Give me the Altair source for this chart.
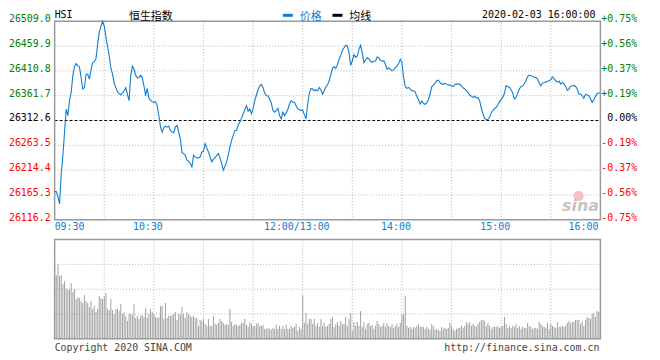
import altair as alt
import pandas as pd

# ---------------- data ----------------
PREV_CLOSE = 26312.6
Y_LO, Y_HI = 26116.2, 26509.0
price_ticks = [26116.2, 26165.3, 26214.4, 26263.5, 26312.6, 26361.7, 26410.8, 26459.9, 26509.0]
pct_labels = ["-0.75%", "-0.56%", "-0.37%", "-0.19%", "0.00%", "+0.19%", "+0.37%", "+0.56%", "+0.75%"]
time_ticks = [0, 60, 150, 210, 270, 330]          # trading minutes since 09:30 (lunch removed)
time_labels = ["09:30", "10:30", "12:00/13:00", "14:00", "15:00", "16:00"]
grid_minutes = [30, 60, 90, 120, 150, 180, 210, 240, 270, 300]
vol_grid = [25, 50, 75]

price = [
    26171.8, 26171.8, 26162.0, 26147.6, 26207.8, 26243.8, 26289.7, 26335.5, 26322.4, 26351.9,
    26368.2, 26401.0, 26419.3, 26425.2, 26420.6, 26419.3, 26397.7, 26374.8, 26378.0, 26404.2,
    26404.2, 26394.4, 26412.7, 26427.1, 26429.1, 26435.0, 26463.2, 26487.4, 26499.2, 26509.0,
    26499.2, 26478.2, 26459.9, 26440.2, 26416.0, 26404.2, 26386.6, 26378.0, 26369.5, 26365.6,
    26363.6, 26366.9, 26371.5, 26377.4, 26365.0, 26351.9, 26400.9, 26420.6, 26414.0, 26402.3,
    26397.0, 26397.7, 26402.3, 26397.7, 26381.3, 26361.7, 26376.1, 26357.1, 26352.5, 26349.9,
    26348.6, 26349.9, 26342.0, 26322.4, 26299.5, 26289.7, 26298.2, 26301.4, 26299.5, 26301.4,
    26292.9, 26289.7, 26288.3, 26299.5, 26302.8, 26289.7, 26276.6, 26249.1, 26247.1, 26243.8,
    26234.0, 26232.0, 26227.5, 26220.9, 26243.8, 26240.6, 26238.6, 26238.6, 26240.6, 26250.4,
    26251.7, 26266.7, 26258.2, 26250.4, 26240.6, 26230.7, 26236.0, 26238.6, 26243.8, 26247.1,
    26238.6, 26227.5, 26214.4, 26222.2, 26230.7, 26243.8, 26260.2, 26273.3, 26283.1, 26292.9,
    26292.9, 26304.1, 26309.3, 26317.2, 26325.7, 26334.2, 26342.0, 26330.9, 26335.5, 26325.7,
    26335.5, 26351.9, 26363.0, 26373.5, 26381.3, 26384.0, 26378.0, 26366.9, 26361.7, 26361.7,
    26355.1, 26347.3, 26332.2, 26328.9, 26332.2, 26336.8, 26322.4, 26315.8, 26328.9, 26322.4,
    26327.6, 26334.2, 26345.3, 26351.9, 26348.6, 26348.6, 26342.0, 26335.5, 26334.2, 26332.2,
    26333.5, 26323.7, 26315.8, 26345.3, 26366.9, 26376.1, 26374.8, 26371.5, 26373.5, 26371.5,
    26378.0, 26373.5, 26364.9, 26371.5, 26379.3, 26383.3, 26391.2, 26402.9, 26416.0, 26419.3,
    26415.4, 26423.2, 26433.7, 26441.5, 26452.0, 26456.6, 26461.8, 26459.9, 26446.8, 26421.9,
    26430.4, 26443.5, 26437.6, 26440.2, 26453.3, 26461.2, 26446.8, 26427.1, 26432.4, 26437.0,
    26435.0, 26429.8, 26427.8, 26429.8, 26430.4, 26438.3, 26437.0, 26431.1, 26430.4, 26431.1,
    26423.9, 26414.0, 26416.7, 26414.0, 26410.8, 26413.4, 26416.7, 26420.6, 26425.2, 26433.7,
    26427.1, 26397.7, 26380.0, 26376.1, 26378.0, 26374.8, 26371.5, 26371.5, 26369.5, 26360.4,
    26353.8, 26345.3, 26351.2, 26346.0, 26344.7, 26347.3, 26353.2, 26365.0, 26379.3, 26382.6,
    26386.6, 26391.2, 26392.4, 26387.9, 26384.6, 26384.6, 26385.9, 26384.6, 26382.6, 26383.3,
    26380.7, 26380.0, 26384.0, 26384.6, 26384.6, 26384.6, 26380.7, 26377.4, 26374.8, 26371.5,
    26367.6, 26363.0, 26360.4, 26358.4, 26361.0, 26357.1, 26357.7, 26351.9, 26336.8, 26325.7,
    26316.5, 26314.5, 26314.5, 26319.1, 26327.6, 26332.9, 26336.1, 26338.8, 26343.3, 26349.9,
    26354.5, 26358.4, 26366.9, 26381.3, 26380.0, 26378.0, 26373.5, 26366.9, 26355.1, 26358.4,
    26366.3, 26374.8, 26380.0, 26381.3, 26385.2, 26391.8, 26399.6, 26402.3, 26401.0, 26400.3,
    26398.3, 26397.7, 26394.4, 26386.6, 26381.3, 26386.6, 26387.9, 26388.5, 26390.5, 26391.2,
    26393.1, 26399.0, 26395.7, 26391.2, 26388.5, 26390.5, 26384.6, 26387.9, 26384.6, 26380.0,
    26372.1, 26374.8, 26380.7, 26381.3, 26382.0, 26380.0, 26374.8, 26365.0, 26365.0, 26361.7,
    26356.4, 26364.3, 26363.0, 26361.7, 26355.1, 26348.6, 26353.8, 26360.4, 26365.6, 26366.9,
    26366.9,
]

# relative volume per minute (panel full height = 100)
volume = [
    63, 64, 75, 63, 64, 55, 58, 51, 49, 50,
    56, 47, 50, 40, 42, 41, 38, 36, 44, 38,
    36, 32, 38, 30, 33, 27, 30, 43, 41, 40,
    43, 46, 30, 29, 40, 29, 25, 30, 30, 28,
    35, 25, 27, 23, 18, 25, 25, 24, 35, 21,
    23, 20, 23, 24, 22, 31, 21, 25, 30, 27,
    25, 22, 21, 22, 33, 33, 20, 36, 21, 23,
    23, 24, 25, 27, 19, 25, 24, 32, 25, 21,
    27, 25, 23, 22, 23, 21, 21, 13, 19, 18,
    20, 15, 13, 20, 13, 13, 23, 15, 14, 16,
    20, 18, 16, 14, 15, 14, 30, 17, 13, 15,
    14, 13, 14, 16, 16, 20, 14, 12, 17, 15,
    12, 13, 15, 16, 13, 13, 14, 10, 10, 11,
    10, 9, 11, 10, 14, 10, 13, 10, 13, 10,
    14, 10, 10, 13, 11, 12, 15, 8, 12, 10,
    44, 16, 26, 15, 20, 20, 15, 20, 13, 16,
    12, 20, 13, 16, 12,
    13, 15, 20, 22, 12, 15, 17, 13, 18, 15,
    15, 22, 13, 20, 26, 8, 17, 13, 17, 13,
    28, 12, 17, 10, 15, 16, 13, 14, 10, 13,
    18, 15, 12, 13, 16, 12, 16, 13, 12, 15,
    11, 13, 15, 12, 16, 24, 25, 43, 13, 11,
    12, 10, 12, 11, 13, 15, 12, 12, 12, 10,
    12, 10, 9, 15, 13, 9, 10, 9, 8, 12,
    10, 11, 10, 11, 16, 13, 10, 8, 10, 11,
    11, 13, 11, 13, 17, 15, 17, 13, 15, 13,
    12, 15, 17, 19, 19, 18, 13, 16, 13, 10,
    12, 12, 12, 13, 11, 12, 13, 22, 15, 11,
    13, 11, 13, 12, 15, 11, 13, 10, 12, 11,
    11, 16, 13, 12, 10, 11, 11, 10, 17, 15,
    13, 12, 11, 16, 10, 15, 13, 12, 11, 17,
    12, 12, 13, 12, 13, 16, 18, 16, 17, 17,
    19, 19, 19, 15, 18, 13, 19, 22, 21, 20,
    25, 26, 22, 28, 27, 28,
]

# ---------------- styles ----------------
BLUE = "#0f7dd0"
GRID = "#b4b4b4"
FRAME = "#9a9a9a"
MONO = "DejaVu Sans Mono"
CJK = "Noto Sans CJK SC"

df_price = pd.DataFrame({"m": list(range(len(price))), "p": price})
df_vol = pd.DataFrame({"m": list(range(len(volume))), "v": volume})


def tick_color(v):
    if abs(v - PREV_CLOSE) < 0.05:
        return "#000000"
    return "#008000" if v > PREV_CLOSE else "#ff0000"


df_yt = pd.DataFrame({
    "v": price_ticks,
    "label": [f"{t:.1f}" for t in price_ticks],
    "pct": pct_labels,
    "color": [tick_color(t) for t in price_ticks],
})
df_hgrid = pd.DataFrame({"v": [t for t in price_ticks[1:-1] if abs(t - PREV_CLOSE) > 0.05]})
df_center = pd.DataFrame({"v": [PREV_CLOSE]})
df_vgrid = pd.DataFrame({"m": grid_minutes})
df_volgrid = pd.DataFrame({"v": vol_grid})
df_tl = pd.DataFrame({"m": time_ticks, "label": time_labels})
one = pd.DataFrame({"k": [0]})

xS = alt.Scale(domain=[0, 330], nice=False, zero=False)
yP = alt.Scale(domain=[Y_LO, Y_HI], range=[200, 0], nice=False, zero=False)
yV = alt.Scale(domain=[0, 100], range=[320, 220], nice=False, zero=True)

X = lambda f: alt.X(f, scale=xS, axis=None)
XD = lambda d: alt.XDatum(d, scale=xS, axis=None, type="quantitative")
YP = lambda f: alt.Y(f, scale=yP, axis=None)
YPD = lambda d: alt.YDatum(d, scale=yP, axis=None, type="quantitative")
YV = lambda f: alt.Y(f, scale=yV, axis=None)
YVD = lambda d: alt.YDatum(d, scale=yV, axis=None, type="quantitative")

# ---------------- price panel ----------------
p_hgrid = alt.Chart(df_hgrid).mark_rule(color=GRID, strokeDash=[1, 2], strokeWidth=1).encode(
    y=YP("v:Q"), x=XD(0), x2=alt.X2Datum(330))
p_vgrid = alt.Chart(df_vgrid).mark_rule(color=GRID, strokeDash=[1, 2], strokeWidth=1).encode(
    x=X("m:Q"), y=YPD(Y_LO), y2=alt.Y2Datum(Y_HI))
p_center = alt.Chart(df_center).mark_rule(color="#000000", strokeDash=[3, 2], strokeWidth=1).encode(
    y=YP("v:Q"), x=XD(0), x2=alt.X2Datum(330))
p_frame = alt.Chart(one).mark_rect(fillOpacity=0, stroke=FRAME, strokeWidth=1.5).encode(
    x=XD(0), x2=alt.X2Datum(330), y=YPD(Y_LO), y2=alt.Y2Datum(Y_HI))
p_line = alt.Chart(df_price).mark_line(color=BLUE, strokeWidth=1.1).encode(
    x=X("m:Q"), y=YP("p:Q"))
p_left = alt.Chart(df_yt).mark_text(align="right", baseline="middle", dx=-4, dy=-2,
                                    font=MONO, fontSize=10).encode(
    x=XD(0), y=YP("v:Q"), text="label:N", color=alt.Color("color:N", scale=None))
p_right = alt.Chart(df_yt).mark_text(align="right", baseline="middle", dx=37, dy=-2,
                                     font=MONO, fontSize=10).encode(
    x=XD(330), y=YP("v:Q"), text="pct:N", color=alt.Color("color:N", scale=None))
t_first = alt.Chart(df_tl.iloc[:1]).mark_text(align="left", baseline="top", dy=2, color=BLUE,
                                              font=MONO, fontSize=10).encode(
    x=X("m:Q"), y=YPD(Y_LO), text="label:N")
t_mid = alt.Chart(df_tl.iloc[1:-1]).mark_text(align="center", baseline="top", dy=2, dx=-6, color=BLUE,
                                              font=MONO, fontSize=10).encode(
    x=X("m:Q"), y=YPD(Y_LO), text="label:N")
t_last = alt.Chart(df_tl.iloc[-1:]).mark_text(align="right", baseline="top", dy=2, dx=-2, color=BLUE,
                                              font=MONO, fontSize=10).encode(
    x=X("m:Q"), y=YPD(Y_LO), text="label:N")

price_group = alt.layer(p_hgrid, p_vgrid, p_center, p_frame, p_line, p_left, p_right,
                        t_first, t_mid, t_last)

# ---------------- volume panel ----------------
v_hgrid = alt.Chart(df_volgrid).mark_rule(color=GRID, strokeDash=[1, 2], strokeWidth=1).encode(
    y=YV("v:Q"), x=XD(0), x2=alt.X2Datum(330))
v_vgrid = alt.Chart(df_vgrid).mark_rule(color=GRID, strokeDash=[1, 2], strokeWidth=1).encode(
    x=X("m:Q"), y=YVD(0), y2=alt.Y2Datum(100))
v_bars = alt.Chart(df_vol).mark_rule(color="#a0a0a0", strokeWidth=1).encode(
    x=X("m:Q"), y=YV("v:Q"), y2=alt.Y2Datum(0))
v_frame = alt.Chart(one).mark_rect(fillOpacity=0, stroke=FRAME, strokeWidth=1.5).encode(
    x=XD(0), x2=alt.X2Datum(330), y=YVD(0), y2=alt.Y2Datum(100))

vol_group = alt.layer(v_hgrid, v_vgrid, v_bars, v_frame)

# ---------------- header / footer decorations ----------------
def txt(s, x, y, align="left", color="#000000", font=MONO, size=10, **kw):
    return alt.Chart(pd.DataFrame({"t": [s]})).mark_text(
        align=align, baseline="middle", color=color, font=font, fontSize=size, **kw
    ).encode(x=alt.value(x), y=alt.value(y), text="t:N")

h_hsi = txt("HSI", 0, -6.5)
h_name = txt("恒生指数", 75, -4.5, font=CJK, size=11)
h_leg1 = alt.Chart(one).mark_rule(color=BLUE, strokeWidth=3).encode(
    x=alt.value(230), x2=alt.value(240), y=alt.value(-6))
h_leg1t = txt("价格", 247, -4.5, color=BLUE, font=CJK, size=11)
h_leg2 = alt.Chart(one).mark_rule(color="#000000", strokeWidth=3).encode(
    x=alt.value(280), x2=alt.value(290), y=alt.value(-6))
h_leg2t = txt("均线", 297, -4.5, font=CJK, size=11)
h_date = txt("2020-02-03 16:00:00", 545, -6.5, align="right")
f_copy = txt("Copyright 2020 SINA.COM", 0, 329.5, color="#444444")
f_url = txt("http://finance.sina.com.cn", 549, 329.5, align="right", color="#444444")
w_logo = alt.Chart(one).mark_point(shape="circle", filled=True, color="#f3b4b4", opacity=0.8, size=110).encode(
    x=alt.value(528), y=alt.value(176))
w_sina = txt("sina", 530, 186, align="center", color="#c4c4c4", font="DejaVu Sans", size=16,
             fontStyle="italic", fontWeight="bold")

deco = alt.layer(h_hsi, h_name, h_leg1, h_leg1t, h_leg2, h_leg2t, h_date, f_copy, f_url,
                 w_logo, w_sina)

chart = alt.layer(price_group, vol_group, deco).resolve_scale(y="independent").properties(
    width=550,
    height=320,
    padding={"left": 47, "top": 12, "right": 52, "bottom": 20},
    autosize=alt.AutoSizeParams(type="none"),
    background="#ffffff",
).configure_view(stroke=None)

chart.save("out.html", embed_options={"renderer": "svg", "actions": False})
